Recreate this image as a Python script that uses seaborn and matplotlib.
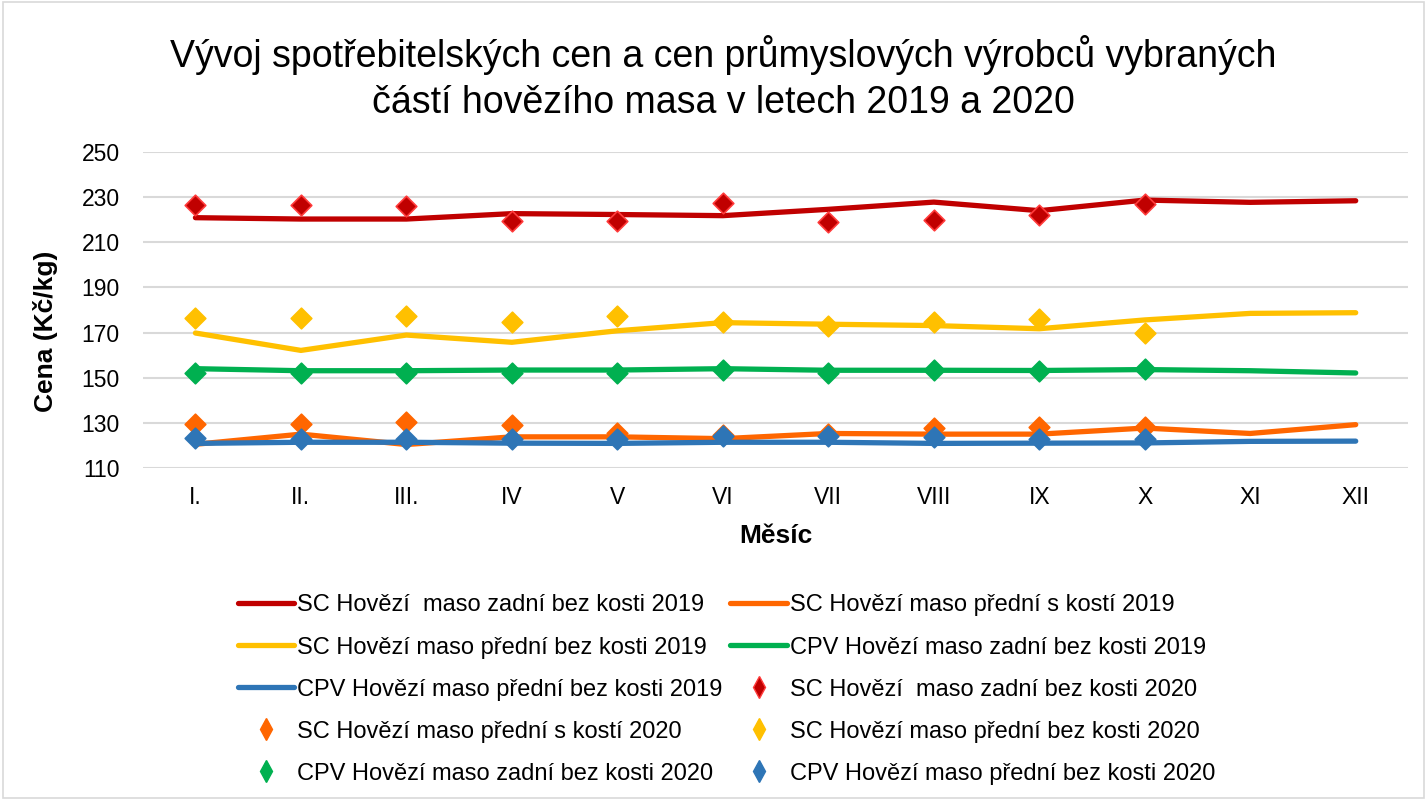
import matplotlib
matplotlib.use('Agg')
import matplotlib.pyplot as plt
from matplotlib.lines import Line2D
from matplotlib.patches import Rectangle
import seaborn as sns
import pandas as pd

months = ["I.", "II.", "III.", "IV", "V", "VI", "VII", "VIII", "IX", "X", "XI", "XII"]

# 2019 lines (all months)
sc_zadni_2019 = [220.9, 220.3, 220.3, 222.7, 222.3, 221.8, 224.6, 227.8, 224.0, 228.7, 227.7, 228.4]
sc_predni_s_2019 = [120.5, 125.0, 120.4, 123.8, 123.8, 123.0, 125.3, 125.0, 125.0, 127.7, 125.3, 129.2]
sc_predni_bez_2019 = [169.8, 162.1, 168.9, 165.7, 170.8, 174.4, 173.7, 173.1, 171.7, 175.6, 178.5, 178.8]
cpv_zadni_2019 = [154.0, 153.1, 153.1, 153.4, 153.4, 154.0, 153.3, 153.3, 153.2, 153.6, 153.1, 152.1]
cpv_predni_2019 = [120.9, 121.4, 121.4, 121.0, 120.9, 121.4, 121.4, 120.9, 121.0, 121.1, 121.8, 121.9]

# 2020 points (I.-X.)
sc_zadni_2020 = [226.5, 226.5, 225.9, 219.4, 219.4, 227.3, 219.1, 219.7, 222.1, 226.8]
sc_predni_s_2020 = [129.6, 129.4, 130.2, 129.0, 125.6, 124.8, 125.0, 127.6, 128.3, 128.3]
sc_predni_bez_2020 = [176.6, 176.6, 177.5, 174.7, 177.2, 174.5, 172.9, 174.8, 175.8, 170.0]
cpv_zadni_2020 = [152.2, 151.9, 151.9, 152.1, 152.1, 153.4, 151.9, 153.3, 153.0, 153.8]
cpv_predni_2020 = [123.1, 122.7, 122.9, 122.9, 122.9, 124.3, 124.1, 123.6, 122.8, 122.7]

names_2019 = ["SC Hovězí  maso zadní bez kosti 2019", "SC Hovězí maso přední s kostí 2019",
              "SC Hovězí maso přední bez kosti 2019", "CPV Hovězí maso zadní bez kosti 2019",
              "CPV Hovězí maso přední bez kosti 2019"]
names_2020 = ["SC Hovězí  maso zadní bez kosti 2020", "SC Hovězí maso přední s kostí 2020",
              "SC Hovězí maso přední bez kosti 2020", "CPV Hovězí maso zadní bez kosti 2020",
              "CPV Hovězí maso přední bez kosti 2020"]
colors = ["#C00000", "#FF6600", "#FFC000", "#00B050", "#2E75B6"]
edges_2020 = ["#FF3B3B", "#FF6600", "#FFC000", "#00B050", "#2E75B6"]

series_2019 = [sc_zadni_2019, sc_predni_s_2019, sc_predni_bez_2019, cpv_zadni_2019, cpv_predni_2019]
series_2020 = [sc_zadni_2020, sc_predni_s_2020, sc_predni_bez_2020, cpv_zadni_2020, cpv_predni_2020]

rows = []
for name, vals in zip(names_2019, series_2019):
    for i, v in enumerate(vals):
        rows.append({"serie": name, "pos": i, "cena": v})
df19 = pd.DataFrame(rows)
rows = []
for name, vals in zip(names_2020, series_2020):
    for i, v in enumerate(vals):
        rows.append({"serie": name, "pos": i, "cena": v})
df20 = pd.DataFrame(rows)

sns.set_theme(style="white")
plt.rcParams['font.family'] = ['Liberation Sans', 'DejaVu Sans']
plt.rcParams['text.color'] = 'black'
plt.rcParams['axes.labelcolor'] = 'black'

fig = plt.figure(figsize=(14.27, 8), dpi=100)
ax = fig.add_axes([0.100, 0.415, 0.887, 0.395])

sns.lineplot(data=df19, x="pos", y="cena", hue="serie", hue_order=names_2019,
             palette=dict(zip(names_2019, colors)), linewidth=3.8, legend=False,
             ax=ax, zorder=3, solid_capstyle='round')
for name, c, ec in zip(names_2020, colors, edges_2020):
    sub = df20[df20["serie"] == name]
    sns.scatterplot(data=sub, x="pos", y="cena", marker="D", s=110, color=c,
                    edgecolor=ec, linewidth=1.2, legend=False, ax=ax, zorder=4)

ax.set_xlim(-0.5, 11.5)
ax.set_ylim(110, 250)
ax.set_yticks(range(110, 251, 20))
ax.set_xticks(range(12))
ax.set_xticklabels(months)
ax.tick_params(axis='both', length=0, labelsize=16.5, colors="#000000")
ax.tick_params(axis='x', pad=13)
ax.tick_params(axis='y', pad=16.5)
ax.yaxis.grid(True, color="#D9D9D9", linewidth=1.5)
ax.set_axisbelow(True)
for s in ax.spines.values():
    s.set_visible(False)
ax.set_xlabel("Měsíc", fontsize=19, fontweight='bold', labelpad=11)
ax.set_ylabel("Cena (Kč/kg)", fontsize=19, fontweight='bold')
ax.yaxis.set_label_coords(-0.067, 0.434)

fig.text(0.507, 0.903, "Vývoj spotřebitelských cen a cen průmyslových výrobců vybraných\nčástí hovězího masa v letech 2019 a 2020",
         ha='center', va='center', fontsize=27, linespacing=1.36)

handles = []
for name, c in zip(names_2019, colors):
    handles.append(Line2D([0], [0], color=c, linewidth=3.8, label=name))
for name, c, ec in zip(names_2020, colors, edges_2020):
    handles.append(Line2D([0], [0], color=c, marker='d', linestyle='None', markersize=11,
                          markeredgecolor=ec, label=name))
# row-wise order for a two column legend
order = [0, 2, 4, 6, 8, 1, 3, 5, 7, 9]
handles = [handles[i] for i in order]
fig.legend(handles=handles, loc='center', bbox_to_anchor=(0.509, 0.138), ncol=2,
           frameon=False, fontsize=17, handlelength=2.4, handletextpad=0.1,
           columnspacing=0.35, labelspacing=0.85)

fig.add_artist(Rectangle((0.002, 0.002), 0.996, 0.996, transform=fig.transFigure,
                         fill=False, edgecolor="#D9D9D9", linewidth=1.2))

fig.savefig("out.png", dpi=100)
